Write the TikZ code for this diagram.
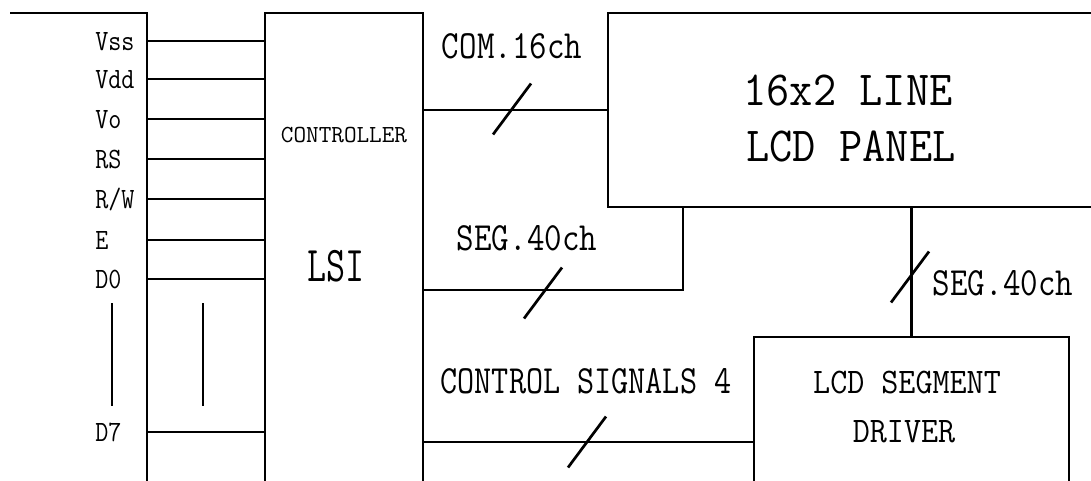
\documentclass[tikz,border=0pt]{standalone}
\usepackage{graphicx}
\usetikzlibrary{positioning}
\newcommand{\sq}[2]{\scalebox{#1}[1]{#2}}

\begin{document}
\begin{tikzpicture}[x=1pt,y=-1pt,line width=2.7pt,
  box/.style={draw,rectangle,inner sep=0pt,outer sep=0pt,anchor=north west},
  pinlbl/.style={anchor=base west,yshift=-9pt,inner sep=0pt,
    font=\fontsize{29.5}{30}\selectfont\ttfamily},
  buslbl/.style={anchor=base,inner sep=0pt,font=\fontsize{40}{40}\selectfont\ttfamily},
  drvlbl/.style={anchor=base,inner sep=0pt,font=\fontsize{36}{36}\selectfont\ttfamily},
  biglbl/.style={anchor=base,inner sep=0pt,font=\fontsize{49}{49}\selectfont\ttfamily}]
  \useasboundingbox (0,0) rectangle (1091,480);
  \clip (0,0) rectangle (1091,480);
% blocks
  \node[box,minimum width=158pt,minimum height=554pt] (lsi) at (265,13) {};
  \node[box,minimum width=600pt,minimum height=194pt] (panel) at (608,13) {};
  \node[box,minimum width=315pt,minimum height=210pt] (drv) at (754,337) {};
  \node[anchor=base,inner sep=0pt,font=\fontsize{24.5}{25}\selectfont\ttfamily]
    (ctrl) at (344,142.5) {CONTROLLER};
  \node[anchor=base,inner sep=0pt,font=\fontsize{50}{50}\selectfont\ttfamily]
    (lsitxt) at (336,281) {\sq{0.74}{LSI}};
  \node[biglbl] (panel1) at (848,105) {\sq{0.92}{16x2 LINE}};
  \node[biglbl] (panel2) at (851,161) {\sq{0.92}{LCD PANEL}};
  \node[drvlbl] (drv1) at (907,393) {\sq{0.92}{LCD SEGMENT}};
  \node[drvlbl] (drv2) at (904,442) {\sq{0.92}{DRIVER}};
% interface pins
  \coordinate (bus) at (147,13);
  \draw (10,13) -- (bus) -- (147,490);
  \foreach \pin/\yy [count=\i] in {Vss/41,Vdd/79,Vo/119,RS/159,{R/W}/199,E/240,D0/279,D7/432}{
    \node[pinlbl] (pin\i) at (94,\yy) {\sq{0.86}{\pin}};
    \draw (bus |- 0,\yy) -- (lsi.west |- 0,\yy);
  }
  \draw (112,303) -- (112,406);
  \draw (203,303) -- (203,406);
% buses
  \draw (lsi.east |- panel.west) -- (panel.west);
  \draw (lsi.east) -| ([xshift=75pt]panel.south west);
  \draw (drv.north |- panel.south) -- (drv.north);
  \draw (lsi.east |- drv.west) -- (drv.west);
  \node[buslbl] (com) at (512,58.5) {\sq{0.85}{COM.16ch}};
  \node[buslbl] (seg1) at (527,250) {\sq{0.85}{SEG.40ch}};
  \node[buslbl] (ctl) at (586,393.5) {\sq{0.83}{CONTROL SIGNALS 4}};
  \node[buslbl] (seg2) at (1003,295) {\sq{0.85}{SEG.40ch}};
% bus width marks
  \draw (512,109) +(-19,25.5) -- +(19,-25.5);
  \draw (543,293) +(-19,25.5) -- +(19,-25.5);
  \draw (587,442) +(-19,25.5) -- +(19,-25.5);
  \draw (910,277) +(-19,25.5) -- +(19,-25.5);
\end{tikzpicture}
\end{document}
